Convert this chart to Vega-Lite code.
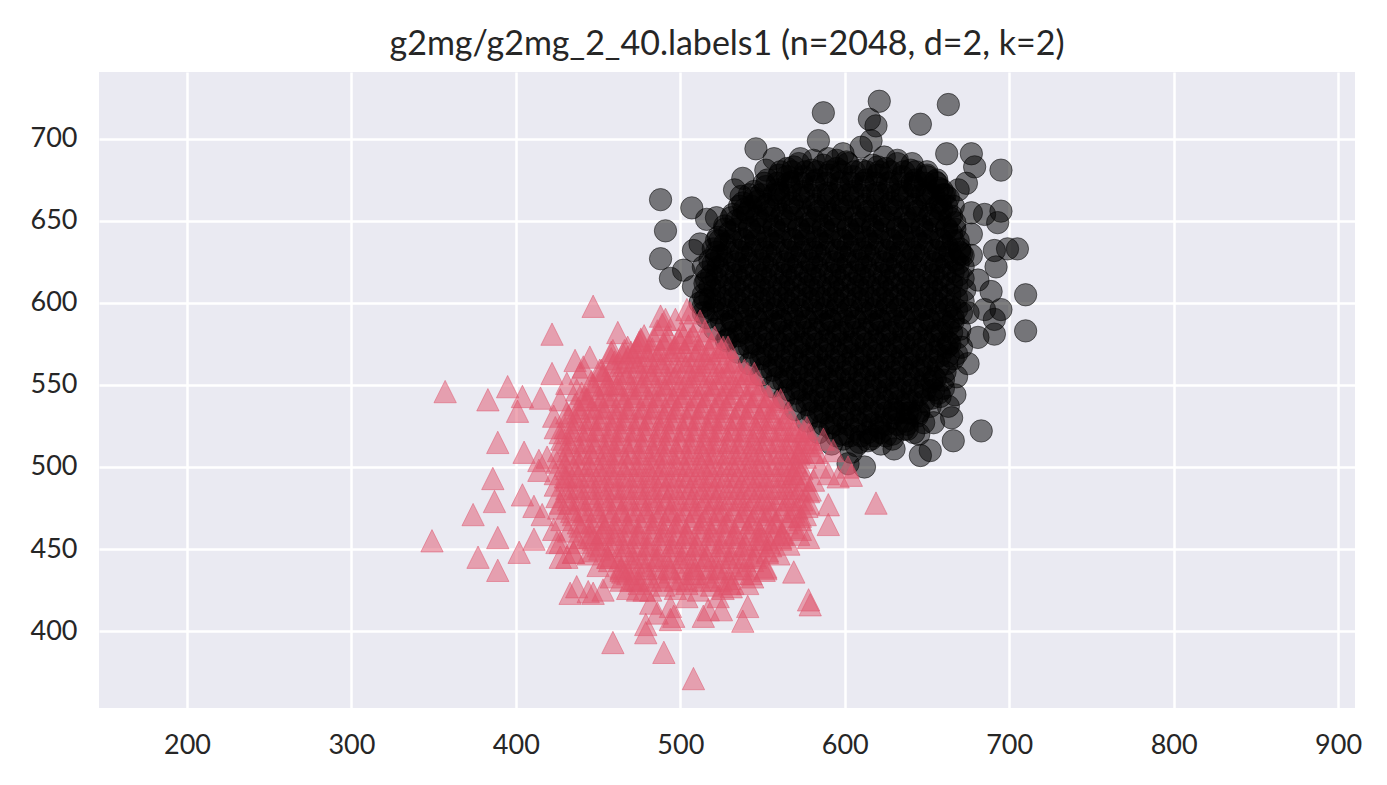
{
  "$schema": "https://vega.github.io/schema/vega-lite/v6.json",
  "width": 1256,
  "height": 636,
  "autosize": {"type": "none"},
  "padding": {"left": 99, "top": 72, "right": 32, "bottom": 77},
  "background": "white",
  "title": {
    "text": "g2mg/g2mg_2_40.labels1 (n=2048, d=2, k=2)",
    "font": "Lato",
    "fontSize": 34,
    "fontWeight": "normal",
    "color": "#262626",
    "anchor": "middle",
    "offset": 10
  },
  "config": {
    "view": {"fill": "#EAEAF2", "stroke": null},
    "axis": {
      "grid": true,
      "gridColor": "#FFFFFF",
      "gridWidth": 2.5,
      "domain": false,
      "ticks": false,
      "labelFont": "Lato",
      "labelFontSize": 27,
      "labelColor": "#262626"
    }
  },
  "datasets": {
    "cluster0": [
      {"x":565,"y":682},{"x":572,"y":685},{"x":580,"y":681},{"x":587,"y":684},{"x":595,"y":682},{"x":602,"y":685},{"x":610,"y":681},{"x":617,"y":684},{"x":625,"y":682},{"x":632,"y":685},{"x":640,"y":681},
      {"x":553,"y":675},{"x":560,"y":678},{"x":568,"y":674},{"x":575,"y":677},{"x":583,"y":675},{"x":590,"y":678},{"x":598,"y":674},{"x":605,"y":677},{"x":613,"y":675},{"x":620,"y":678},{"x":628,"y":674},{"x":635,"y":677},{"x":643,"y":675},{"x":650,"y":678},{"x":655,"y":674},
      {"x":545,"y":668},{"x":552,"y":671},{"x":560,"y":667},{"x":567,"y":670},{"x":575,"y":668},{"x":582,"y":671},{"x":590,"y":667},{"x":597,"y":670},{"x":605,"y":668},{"x":612,"y":671},{"x":620,"y":667},{"x":627,"y":670},{"x":635,"y":668},{"x":642,"y":671},{"x":650,"y":667},{"x":657,"y":670},{"x":661,"y":666},
      {"x":538,"y":661},{"x":545,"y":664},{"x":553,"y":660},{"x":560,"y":663},{"x":568,"y":661},{"x":575,"y":664},{"x":583,"y":660},{"x":590,"y":663},{"x":598,"y":661},{"x":605,"y":664},{"x":613,"y":660},{"x":620,"y":663},{"x":628,"y":661},{"x":635,"y":664},{"x":643,"y":660},{"x":650,"y":663},{"x":658,"y":661},{"x":663,"y":664},
      {"x":532,"y":654},{"x":539,"y":657},{"x":547,"y":653},{"x":554,"y":656},{"x":562,"y":654},{"x":569,"y":657},{"x":577,"y":653},{"x":584,"y":656},{"x":592,"y":654},{"x":599,"y":657},{"x":607,"y":653},{"x":614,"y":656},{"x":622,"y":654},{"x":629,"y":657},{"x":637,"y":653},{"x":644,"y":656},{"x":652,"y":654},{"x":659,"y":657},{"x":665,"y":653},
      {"x":527,"y":647},{"x":534,"y":650},{"x":542,"y":646},{"x":549,"y":649},{"x":557,"y":647},{"x":564,"y":650},{"x":572,"y":646},{"x":579,"y":649},{"x":587,"y":647},{"x":594,"y":650},{"x":602,"y":646},{"x":609,"y":649},{"x":617,"y":647},{"x":624,"y":650},{"x":632,"y":646},{"x":639,"y":649},{"x":647,"y":647},{"x":654,"y":650},{"x":662,"y":646},{"x":667,"y":649},
      {"x":523,"y":640},{"x":530,"y":643},{"x":538,"y":639},{"x":545,"y":642},{"x":553,"y":640},{"x":560,"y":643},{"x":568,"y":639},{"x":575,"y":642},{"x":583,"y":640},{"x":590,"y":643},{"x":598,"y":639},{"x":605,"y":642},{"x":613,"y":640},{"x":620,"y":643},{"x":628,"y":639},{"x":635,"y":642},{"x":643,"y":640},{"x":650,"y":643},{"x":658,"y":639},{"x":665,"y":642},{"x":669,"y":638},
      {"x":520,"y":633},{"x":527,"y":636},{"x":535,"y":632},{"x":542,"y":635},{"x":550,"y":633},{"x":557,"y":636},{"x":565,"y":632},{"x":572,"y":635},{"x":580,"y":633},{"x":587,"y":636},{"x":595,"y":632},{"x":602,"y":635},{"x":610,"y":633},{"x":617,"y":636},{"x":625,"y":632},{"x":632,"y":635},{"x":640,"y":633},{"x":647,"y":636},{"x":655,"y":632},{"x":662,"y":635},{"x":670,"y":633},
      {"x":518,"y":626},{"x":525,"y":629},{"x":533,"y":625},{"x":540,"y":628},{"x":548,"y":626},{"x":555,"y":629},{"x":563,"y":625},{"x":570,"y":628},{"x":578,"y":626},{"x":585,"y":629},{"x":593,"y":625},{"x":600,"y":628},{"x":608,"y":626},{"x":615,"y":629},{"x":623,"y":625},{"x":630,"y":628},{"x":638,"y":626},{"x":645,"y":629},{"x":653,"y":625},{"x":660,"y":628},{"x":667,"y":626},{"x":672,"y":629},
      {"x":516,"y":619},{"x":523,"y":622},{"x":531,"y":618},{"x":538,"y":621},{"x":546,"y":619},{"x":553,"y":622},{"x":561,"y":618},{"x":568,"y":621},{"x":576,"y":619},{"x":583,"y":622},{"x":591,"y":618},{"x":598,"y":621},{"x":606,"y":619},{"x":613,"y":622},{"x":621,"y":618},{"x":628,"y":621},{"x":636,"y":619},{"x":643,"y":622},{"x":651,"y":618},{"x":658,"y":621},{"x":666,"y":619},{"x":672,"y":622},
      {"x":515,"y":612},{"x":522,"y":615},{"x":530,"y":611},{"x":537,"y":614},{"x":545,"y":612},{"x":552,"y":615},{"x":560,"y":611},{"x":567,"y":614},{"x":575,"y":612},{"x":582,"y":615},{"x":590,"y":611},{"x":597,"y":614},{"x":605,"y":612},{"x":612,"y":615},{"x":620,"y":611},{"x":627,"y":614},{"x":635,"y":612},{"x":642,"y":615},{"x":650,"y":611},{"x":657,"y":614},{"x":665,"y":612},{"x":672,"y":615},
      {"x":514,"y":605},{"x":521,"y":608},{"x":529,"y":604},{"x":536,"y":607},{"x":544,"y":605},{"x":551,"y":608},{"x":559,"y":604},{"x":566,"y":607},{"x":574,"y":605},{"x":581,"y":608},{"x":589,"y":604},{"x":596,"y":607},{"x":604,"y":605},{"x":611,"y":608},{"x":619,"y":604},{"x":626,"y":607},{"x":634,"y":605},{"x":641,"y":608},{"x":649,"y":604},{"x":656,"y":607},{"x":664,"y":605},{"x":673,"y":608},
      {"x":514,"y":598},{"x":521,"y":601},{"x":529,"y":597},{"x":536,"y":600},{"x":544,"y":598},{"x":551,"y":601},{"x":559,"y":597},{"x":566,"y":600},{"x":574,"y":598},{"x":581,"y":601},{"x":589,"y":597},{"x":596,"y":600},{"x":604,"y":598},{"x":611,"y":601},{"x":619,"y":597},{"x":626,"y":600},{"x":634,"y":598},{"x":641,"y":601},{"x":649,"y":597},{"x":656,"y":600},{"x":664,"y":598},{"x":672,"y":601},
      {"x":516,"y":591},{"x":523,"y":594},{"x":531,"y":590},{"x":538,"y":593},{"x":546,"y":591},{"x":553,"y":594},{"x":561,"y":590},{"x":568,"y":593},{"x":576,"y":591},{"x":583,"y":594},{"x":591,"y":590},{"x":598,"y":593},{"x":606,"y":591},{"x":613,"y":594},{"x":621,"y":590},{"x":628,"y":593},{"x":636,"y":591},{"x":643,"y":594},{"x":651,"y":590},{"x":658,"y":593},{"x":666,"y":591},{"x":671,"y":594},
      {"x":521,"y":584},{"x":528,"y":587},{"x":536,"y":583},{"x":543,"y":586},{"x":551,"y":584},{"x":558,"y":587},{"x":566,"y":583},{"x":573,"y":586},{"x":581,"y":584},{"x":588,"y":587},{"x":596,"y":583},{"x":603,"y":586},{"x":611,"y":584},{"x":618,"y":587},{"x":626,"y":583},{"x":633,"y":586},{"x":641,"y":584},{"x":648,"y":587},{"x":656,"y":583},{"x":663,"y":586},{"x":670,"y":584},
      {"x":528,"y":577},{"x":535,"y":580},{"x":543,"y":576},{"x":550,"y":579},{"x":558,"y":577},{"x":565,"y":580},{"x":573,"y":576},{"x":580,"y":579},{"x":588,"y":577},{"x":595,"y":580},{"x":603,"y":576},{"x":610,"y":579},{"x":618,"y":577},{"x":625,"y":580},{"x":633,"y":576},{"x":640,"y":579},{"x":648,"y":577},{"x":655,"y":580},{"x":663,"y":576},{"x":669,"y":579},
      {"x":535,"y":570},{"x":542,"y":573},{"x":550,"y":569},{"x":557,"y":572},{"x":565,"y":570},{"x":572,"y":573},{"x":580,"y":569},{"x":587,"y":572},{"x":595,"y":570},{"x":602,"y":573},{"x":610,"y":569},{"x":617,"y":572},{"x":625,"y":570},{"x":632,"y":573},{"x":640,"y":569},{"x":647,"y":572},{"x":655,"y":570},{"x":662,"y":573},{"x":668,"y":569},
      {"x":542,"y":563},{"x":549,"y":566},{"x":557,"y":562},{"x":564,"y":565},{"x":572,"y":563},{"x":579,"y":566},{"x":587,"y":562},{"x":594,"y":565},{"x":602,"y":563},{"x":609,"y":566},{"x":617,"y":562},{"x":624,"y":565},{"x":632,"y":563},{"x":639,"y":566},{"x":647,"y":562},{"x":654,"y":565},{"x":662,"y":563},{"x":666,"y":566},
      {"x":549,"y":556},{"x":556,"y":559},{"x":564,"y":555},{"x":571,"y":558},{"x":579,"y":556},{"x":586,"y":559},{"x":594,"y":555},{"x":601,"y":558},{"x":609,"y":556},{"x":616,"y":559},{"x":624,"y":555},{"x":631,"y":558},{"x":639,"y":556},{"x":646,"y":559},{"x":654,"y":555},{"x":661,"y":558},
      {"x":556,"y":549},{"x":563,"y":552},{"x":571,"y":548},{"x":578,"y":551},{"x":586,"y":549},{"x":593,"y":552},{"x":601,"y":548},{"x":608,"y":551},{"x":616,"y":549},{"x":623,"y":552},{"x":631,"y":548},{"x":638,"y":551},{"x":646,"y":549},{"x":653,"y":552},{"x":660,"y":548},
      {"x":563,"y":542},{"x":570,"y":545},{"x":578,"y":541},{"x":585,"y":544},{"x":593,"y":542},{"x":600,"y":545},{"x":608,"y":541},{"x":615,"y":544},{"x":623,"y":542},{"x":630,"y":545},{"x":638,"y":541},{"x":645,"y":544},{"x":653,"y":542},{"x":657,"y":545},
      {"x":570,"y":535},{"x":577,"y":538},{"x":585,"y":534},{"x":592,"y":537},{"x":600,"y":535},{"x":607,"y":538},{"x":615,"y":534},{"x":622,"y":537},{"x":630,"y":535},{"x":637,"y":538},{"x":645,"y":534},{"x":652,"y":537},
      {"x":577,"y":528},{"x":584,"y":531},{"x":592,"y":527},{"x":599,"y":530},{"x":607,"y":528},{"x":614,"y":531},{"x":622,"y":527},{"x":629,"y":530},{"x":637,"y":528},{"x":644,"y":531},{"x":648,"y":527},
      {"x":584,"y":521},{"x":591,"y":524},{"x":599,"y":520},{"x":606,"y":523},{"x":614,"y":521},{"x":621,"y":524},{"x":629,"y":520},{"x":636,"y":523},{"x":642,"y":521},
      {"x":592,"y":514},{"x":599,"y":517},{"x":607,"y":513},{"x":614,"y":516},{"x":622,"y":514},{"x":629,"y":517},
      {"x":561,"y":680},{"x":568,"y":680},{"x":576,"y":680},{"x":583,"y":680},{"x":591,"y":680},{"x":598,"y":680},{"x":606,"y":680},{"x":613,"y":680},{"x":621,"y":680},{"x":628,"y":680},{"x":636,"y":680},{"x":643,"y":680},{"x":650,"y":680},
      {"x":551,"y":673},{"x":559,"y":673},{"x":566,"y":673},{"x":574,"y":673},{"x":581,"y":673},{"x":589,"y":673},{"x":596,"y":673},{"x":604,"y":673},{"x":611,"y":673},{"x":619,"y":673},{"x":626,"y":673},{"x":634,"y":673},{"x":641,"y":673},{"x":649,"y":673},{"x":656,"y":673},
      {"x":542,"y":666},{"x":549,"y":666},{"x":557,"y":666},{"x":564,"y":666},{"x":572,"y":666},{"x":579,"y":666},{"x":587,"y":666},{"x":594,"y":666},{"x":602,"y":666},{"x":609,"y":666},{"x":617,"y":666},{"x":624,"y":666},{"x":632,"y":666},{"x":639,"y":666},{"x":647,"y":666},{"x":654,"y":666},{"x":660,"y":666},
      {"x":536,"y":659},{"x":543,"y":659},{"x":551,"y":659},{"x":558,"y":659},{"x":566,"y":659},{"x":573,"y":659},{"x":581,"y":659},{"x":588,"y":659},{"x":596,"y":659},{"x":603,"y":659},{"x":611,"y":659},{"x":618,"y":659},{"x":626,"y":659},{"x":633,"y":659},{"x":641,"y":659},{"x":648,"y":659},{"x":656,"y":659},{"x":662,"y":659},
      {"x":531,"y":652},{"x":538,"y":652},{"x":546,"y":652},{"x":553,"y":652},{"x":561,"y":652},{"x":568,"y":652},{"x":576,"y":652},{"x":583,"y":652},{"x":591,"y":652},{"x":598,"y":652},{"x":606,"y":652},{"x":613,"y":652},{"x":621,"y":652},{"x":628,"y":652},{"x":636,"y":652},{"x":643,"y":652},{"x":651,"y":652},{"x":658,"y":652},{"x":664,"y":652},
      {"x":527,"y":645},{"x":534,"y":645},{"x":542,"y":645},{"x":549,"y":645},{"x":557,"y":645},{"x":564,"y":645},{"x":572,"y":645},{"x":579,"y":645},{"x":587,"y":645},{"x":594,"y":645},{"x":602,"y":645},{"x":609,"y":645},{"x":617,"y":645},{"x":624,"y":645},{"x":632,"y":645},{"x":639,"y":645},{"x":647,"y":645},{"x":654,"y":645},{"x":662,"y":645},{"x":667,"y":645},
      {"x":524,"y":638},{"x":531,"y":638},{"x":539,"y":638},{"x":546,"y":638},{"x":554,"y":638},{"x":561,"y":638},{"x":569,"y":638},{"x":576,"y":638},{"x":584,"y":638},{"x":591,"y":638},{"x":599,"y":638},{"x":606,"y":638},{"x":614,"y":638},{"x":621,"y":638},{"x":629,"y":638},{"x":636,"y":638},{"x":644,"y":638},{"x":651,"y":638},{"x":659,"y":638},{"x":666,"y":638},
      {"x":522,"y":631},{"x":529,"y":631},{"x":537,"y":631},{"x":544,"y":631},{"x":552,"y":631},{"x":559,"y":631},{"x":567,"y":631},{"x":574,"y":631},{"x":582,"y":631},{"x":589,"y":631},{"x":597,"y":631},{"x":604,"y":631},{"x":612,"y":631},{"x":619,"y":631},{"x":627,"y":631},{"x":634,"y":631},{"x":642,"y":631},{"x":649,"y":631},{"x":657,"y":631},{"x":664,"y":631},{"x":670,"y":631},
      {"x":520,"y":624},{"x":527,"y":624},{"x":535,"y":624},{"x":542,"y":624},{"x":550,"y":624},{"x":557,"y":624},{"x":565,"y":624},{"x":572,"y":624},{"x":580,"y":624},{"x":587,"y":624},{"x":595,"y":624},{"x":602,"y":624},{"x":610,"y":624},{"x":617,"y":624},{"x":625,"y":624},{"x":632,"y":624},{"x":640,"y":624},{"x":647,"y":624},{"x":655,"y":624},{"x":662,"y":624},{"x":669,"y":624},
      {"x":519,"y":617},{"x":526,"y":617},{"x":534,"y":617},{"x":541,"y":617},{"x":549,"y":617},{"x":556,"y":617},{"x":564,"y":617},{"x":571,"y":617},{"x":579,"y":617},{"x":586,"y":617},{"x":594,"y":617},{"x":601,"y":617},{"x":609,"y":617},{"x":616,"y":617},{"x":624,"y":617},{"x":631,"y":617},{"x":639,"y":617},{"x":646,"y":617},{"x":654,"y":617},{"x":661,"y":617},{"x":669,"y":617},
      {"x":518,"y":610},{"x":525,"y":610},{"x":533,"y":610},{"x":540,"y":610},{"x":548,"y":610},{"x":555,"y":610},{"x":563,"y":610},{"x":570,"y":610},{"x":578,"y":610},{"x":585,"y":610},{"x":593,"y":610},{"x":600,"y":610},{"x":608,"y":610},{"x":615,"y":610},{"x":623,"y":610},{"x":630,"y":610},{"x":638,"y":610},{"x":645,"y":610},{"x":653,"y":610},{"x":660,"y":610},{"x":668,"y":610},
      {"x":518,"y":603},{"x":525,"y":603},{"x":533,"y":603},{"x":540,"y":603},{"x":548,"y":603},{"x":555,"y":603},{"x":563,"y":603},{"x":570,"y":603},{"x":578,"y":603},{"x":585,"y":603},{"x":593,"y":603},{"x":600,"y":603},{"x":608,"y":603},{"x":615,"y":603},{"x":623,"y":603},{"x":630,"y":603},{"x":638,"y":603},{"x":645,"y":603},{"x":653,"y":603},{"x":660,"y":603},{"x":668,"y":603},
      {"x":520,"y":596},{"x":527,"y":596},{"x":535,"y":596},{"x":542,"y":596},{"x":550,"y":596},{"x":557,"y":596},{"x":565,"y":596},{"x":572,"y":596},{"x":580,"y":596},{"x":587,"y":596},{"x":595,"y":596},{"x":602,"y":596},{"x":610,"y":596},{"x":617,"y":596},{"x":625,"y":596},{"x":632,"y":596},{"x":640,"y":596},{"x":647,"y":596},{"x":655,"y":596},{"x":662,"y":596},{"x":668,"y":596},
      {"x":525,"y":589},{"x":532,"y":589},{"x":540,"y":589},{"x":547,"y":589},{"x":555,"y":589},{"x":562,"y":589},{"x":570,"y":589},{"x":577,"y":589},{"x":585,"y":589},{"x":592,"y":589},{"x":600,"y":589},{"x":607,"y":589},{"x":615,"y":589},{"x":622,"y":589},{"x":630,"y":589},{"x":637,"y":589},{"x":645,"y":589},{"x":652,"y":589},{"x":660,"y":589},{"x":666,"y":589},
      {"x":531,"y":582},{"x":539,"y":582},{"x":546,"y":582},{"x":554,"y":582},{"x":561,"y":582},{"x":569,"y":582},{"x":576,"y":582},{"x":584,"y":582},{"x":591,"y":582},{"x":599,"y":582},{"x":606,"y":582},{"x":614,"y":582},{"x":621,"y":582},{"x":629,"y":582},{"x":636,"y":582},{"x":644,"y":582},{"x":651,"y":582},{"x":659,"y":582},{"x":665,"y":582},
      {"x":538,"y":575},{"x":546,"y":575},{"x":553,"y":575},{"x":561,"y":575},{"x":568,"y":575},{"x":576,"y":575},{"x":583,"y":575},{"x":591,"y":575},{"x":598,"y":575},{"x":606,"y":575},{"x":613,"y":575},{"x":621,"y":575},{"x":628,"y":575},{"x":636,"y":575},{"x":643,"y":575},{"x":651,"y":575},{"x":658,"y":575},{"x":664,"y":575},
      {"x":545,"y":568},{"x":553,"y":568},{"x":560,"y":568},{"x":568,"y":568},{"x":575,"y":568},{"x":583,"y":568},{"x":590,"y":568},{"x":598,"y":568},{"x":605,"y":568},{"x":613,"y":568},{"x":620,"y":568},{"x":628,"y":568},{"x":635,"y":568},{"x":643,"y":568},{"x":650,"y":568},{"x":658,"y":568},{"x":663,"y":568},
      {"x":552,"y":561},{"x":560,"y":561},{"x":567,"y":561},{"x":575,"y":561},{"x":582,"y":561},{"x":590,"y":561},{"x":597,"y":561},{"x":605,"y":561},{"x":612,"y":561},{"x":620,"y":561},{"x":627,"y":561},{"x":635,"y":561},{"x":642,"y":561},{"x":650,"y":561},{"x":657,"y":561},
      {"x":559,"y":554},{"x":567,"y":554},{"x":574,"y":554},{"x":582,"y":554},{"x":589,"y":554},{"x":597,"y":554},{"x":604,"y":554},{"x":612,"y":554},{"x":619,"y":554},{"x":627,"y":554},{"x":634,"y":554},{"x":642,"y":554},{"x":649,"y":554},{"x":655,"y":554},
      {"x":566,"y":547},{"x":574,"y":547},{"x":581,"y":547},{"x":589,"y":547},{"x":596,"y":547},{"x":604,"y":547},{"x":611,"y":547},{"x":619,"y":547},{"x":626,"y":547},{"x":634,"y":547},{"x":641,"y":547},{"x":649,"y":547},{"x":654,"y":547},
      {"x":573,"y":540},{"x":581,"y":540},{"x":588,"y":540},{"x":596,"y":540},{"x":603,"y":540},{"x":611,"y":540},{"x":618,"y":540},{"x":626,"y":540},{"x":633,"y":540},{"x":641,"y":540},{"x":648,"y":540},
      {"x":580,"y":533},{"x":588,"y":533},{"x":595,"y":533},{"x":603,"y":533},{"x":610,"y":533},{"x":618,"y":533},{"x":625,"y":533},{"x":633,"y":533},{"x":640,"y":533},{"x":645,"y":533},
      {"x":587,"y":526},{"x":595,"y":526},{"x":602,"y":526},{"x":610,"y":526},{"x":617,"y":526},{"x":625,"y":526},{"x":632,"y":526},{"x":638,"y":526},
      {"x":595,"y":519},{"x":603,"y":519},{"x":610,"y":519},{"x":618,"y":519},{"x":625,"y":519},
      {"x":587,"y":716},{"x":621,"y":723},{"x":663,"y":721},{"x":615,"y":712},{"x":619,"y":708},{"x":646,"y":709},{"x":584,"y":699},{"x":616,"y":699},{"x":546,"y":694},{"x":557,"y":688},{"x":552,"y":681},{"x":662,"y":691},{"x":677,"y":691},{"x":679,"y":683},{"x":695,"y":681},{"x":674,"y":673},{"x":538,"y":676},{"x":533,"y":669},{"x":488,"y":663},{"x":507,"y":658},{"x":516,"y":651},{"x":491,"y":644},{"x":488,"y":627},{"x":494,"y":615},{"x":502,"y":620},
      {"x":685,"y":654},{"x":695,"y":656},{"x":693,"y":649},{"x":705,"y":633},{"x":699,"y":633},{"x":691,"y":632},{"x":677,"y":629},{"x":692,"y":622},{"x":710,"y":605},{"x":695,"y":596},{"x":691,"y":590},{"x":710,"y":583},{"x":691,"y":581},{"x":689,"y":607},{"x":681,"y":614},{"x":675,"y":563},{"x":668,"y":555},{"x":667,"y":544},{"x":665,"y":530},{"x":683,"y":522},{"x":666,"y":516},{"x":646,"y":507},{"x":652,"y":510},{"x":630,"y":511},{"x":645,"y":520},{"x":612,"y":500},{"x":602,"y":502},{"x":609,"y":515},{"x":622,"y":521},{"x":663,"y":537},{"x":658,"y":543},{"x":681,"y":579},{"x":685,"y":596},{"x":677,"y":642},{"x":666,"y":659},{"x":659,"y":669},{"x":643,"y":671},{"x":632,"y":687},{"x":624,"y":689},{"x":601,"y":686},{"x":595,"y":687},{"x":590,"y":688},{"x":581,"y":687},{"x":569,"y":683},{"x":565,"y":677},{"x":559,"y":669},{"x":547,"y":662},{"x":537,"y":665},{"x":522,"y":652},{"x":512,"y":636},{"x":516,"y":614},{"x":515,"y":602},{"x":514,"y":594},{"x":529,"y":578},
      {"x":638,"y":533},{"x":630,"y":533},{"x":660,"y":553},{"x":671,"y":573},{"x":675,"y":594},{"x":671,"y":630},{"x":677,"y":655},{"x":669,"y":669},{"x":656,"y":675},{"x":650,"y":677},{"x":641,"y":685},{"x":620,"y":683},{"x":610,"y":695},{"x":599,"y":691},{"x":573,"y":688},{"x":541,"y":655},{"x":522,"y":638},{"x":508,"y":632},{"x":514,"y":622},{"x":522,"y":628},{"x":508,"y":610},{"x":512,"y":600},{"x":604,"y":509},{"x":616,"y":517},{"x":638,"y":523},{"x":654,"y":527}
    ],
    "cluster1": [
      {"x":489,"y":587},{"x":497,"y":590},{"x":505,"y":586},{"x":512,"y":589},
      {"x":478,"y":580},{"x":486,"y":583},{"x":493,"y":579},{"x":501,"y":582},{"x":508,"y":580},{"x":515,"y":583},{"x":521,"y":579},
      {"x":468,"y":573},{"x":475,"y":576},{"x":483,"y":572},{"x":490,"y":575},{"x":497,"y":573},{"x":505,"y":576},{"x":512,"y":572},{"x":519,"y":575},{"x":526,"y":573},
      {"x":458,"y":566},{"x":465,"y":569},{"x":473,"y":565},{"x":480,"y":568},{"x":487,"y":566},{"x":494,"y":569},{"x":502,"y":565},{"x":509,"y":568},{"x":516,"y":566},{"x":523,"y":569},{"x":531,"y":565},
      {"x":452,"y":559},{"x":459,"y":562},{"x":466,"y":558},{"x":474,"y":561},{"x":481,"y":559},{"x":488,"y":562},{"x":495,"y":558},{"x":503,"y":561},{"x":510,"y":559},{"x":517,"y":562},{"x":524,"y":558},{"x":531,"y":561},{"x":539,"y":559},
      {"x":446,"y":552},{"x":453,"y":555},{"x":460,"y":551},{"x":467,"y":554},{"x":475,"y":552},{"x":482,"y":555},{"x":489,"y":551},{"x":496,"y":554},{"x":504,"y":552},{"x":511,"y":555},{"x":518,"y":551},{"x":525,"y":554},{"x":532,"y":552},{"x":540,"y":555},{"x":546,"y":551},
      {"x":440,"y":545},{"x":447,"y":548},{"x":454,"y":544},{"x":462,"y":547},{"x":469,"y":545},{"x":476,"y":548},{"x":483,"y":544},{"x":491,"y":547},{"x":498,"y":545},{"x":505,"y":548},{"x":512,"y":544},{"x":520,"y":547},{"x":527,"y":545},{"x":534,"y":548},{"x":541,"y":544},{"x":548,"y":547},{"x":553,"y":543},
      {"x":436,"y":538},{"x":443,"y":541},{"x":450,"y":537},{"x":457,"y":540},{"x":465,"y":538},{"x":472,"y":541},{"x":479,"y":537},{"x":486,"y":540},{"x":494,"y":538},{"x":501,"y":541},{"x":508,"y":537},{"x":515,"y":540},{"x":523,"y":538},{"x":530,"y":541},{"x":537,"y":537},{"x":544,"y":540},{"x":552,"y":538},{"x":559,"y":540},
      {"x":432,"y":531},{"x":439,"y":534},{"x":446,"y":530},{"x":454,"y":533},{"x":461,"y":531},{"x":468,"y":534},{"x":475,"y":530},{"x":483,"y":533},{"x":490,"y":531},{"x":497,"y":534},{"x":504,"y":530},{"x":512,"y":533},{"x":519,"y":531},{"x":526,"y":534},{"x":533,"y":530},{"x":541,"y":533},{"x":548,"y":531},{"x":555,"y":534},{"x":562,"y":530},{"x":566,"y":533},
      {"x":430,"y":524},{"x":437,"y":527},{"x":444,"y":523},{"x":451,"y":526},{"x":459,"y":524},{"x":466,"y":527},{"x":473,"y":523},{"x":480,"y":526},{"x":488,"y":524},{"x":495,"y":527},{"x":502,"y":523},{"x":509,"y":526},{"x":517,"y":524},{"x":524,"y":527},{"x":531,"y":523},{"x":538,"y":526},{"x":546,"y":524},{"x":553,"y":527},{"x":560,"y":523},{"x":567,"y":526},{"x":572,"y":522},
      {"x":428,"y":517},{"x":435,"y":520},{"x":442,"y":516},{"x":450,"y":519},{"x":457,"y":517},{"x":464,"y":520},{"x":471,"y":516},{"x":479,"y":519},{"x":486,"y":517},{"x":493,"y":520},{"x":500,"y":516},{"x":508,"y":519},{"x":515,"y":517},{"x":522,"y":520},{"x":529,"y":516},{"x":537,"y":519},{"x":544,"y":517},{"x":551,"y":520},{"x":558,"y":516},{"x":566,"y":519},{"x":573,"y":517},{"x":578,"y":520},
      {"x":426,"y":510},{"x":433,"y":513},{"x":440,"y":509},{"x":448,"y":512},{"x":455,"y":510},{"x":462,"y":513},{"x":469,"y":509},{"x":477,"y":512},{"x":484,"y":510},{"x":491,"y":513},{"x":498,"y":509},{"x":506,"y":512},{"x":513,"y":510},{"x":520,"y":513},{"x":527,"y":509},{"x":535,"y":512},{"x":542,"y":510},{"x":549,"y":513},{"x":556,"y":509},{"x":564,"y":512},{"x":571,"y":510},{"x":578,"y":513},{"x":583,"y":509},
      {"x":425,"y":503},{"x":432,"y":506},{"x":439,"y":502},{"x":447,"y":505},{"x":454,"y":503},{"x":461,"y":506},{"x":468,"y":502},{"x":476,"y":505},{"x":483,"y":503},{"x":490,"y":506},{"x":497,"y":502},{"x":505,"y":505},{"x":512,"y":503},{"x":519,"y":506},{"x":526,"y":502},{"x":534,"y":505},{"x":541,"y":503},{"x":548,"y":506},{"x":555,"y":502},{"x":563,"y":505},{"x":570,"y":503},{"x":576,"y":506},
      {"x":424,"y":496},{"x":431,"y":499},{"x":438,"y":495},{"x":446,"y":498},{"x":453,"y":496},{"x":460,"y":499},{"x":467,"y":495},{"x":475,"y":498},{"x":482,"y":496},{"x":489,"y":499},{"x":496,"y":495},{"x":504,"y":498},{"x":511,"y":496},{"x":518,"y":499},{"x":525,"y":495},{"x":533,"y":498},{"x":540,"y":496},{"x":547,"y":499},{"x":554,"y":495},{"x":562,"y":498},{"x":569,"y":496},{"x":574,"y":499},
      {"x":424,"y":489},{"x":431,"y":492},{"x":438,"y":488},{"x":446,"y":491},{"x":453,"y":489},{"x":460,"y":492},{"x":467,"y":488},{"x":475,"y":491},{"x":482,"y":489},{"x":489,"y":492},{"x":496,"y":488},{"x":504,"y":491},{"x":511,"y":489},{"x":518,"y":492},{"x":525,"y":488},{"x":533,"y":491},{"x":540,"y":489},{"x":547,"y":492},{"x":554,"y":488},{"x":562,"y":491},{"x":569,"y":489},{"x":576,"y":492},
      {"x":425,"y":482},{"x":432,"y":485},{"x":439,"y":481},{"x":447,"y":484},{"x":454,"y":482},{"x":461,"y":485},{"x":468,"y":481},{"x":476,"y":484},{"x":483,"y":482},{"x":490,"y":485},{"x":497,"y":481},{"x":505,"y":484},{"x":512,"y":482},{"x":519,"y":485},{"x":526,"y":481},{"x":534,"y":484},{"x":541,"y":482},{"x":548,"y":485},{"x":555,"y":481},{"x":563,"y":484},{"x":570,"y":482},{"x":578,"y":485},
      {"x":426,"y":475},{"x":433,"y":478},{"x":440,"y":474},{"x":448,"y":477},{"x":455,"y":475},{"x":462,"y":478},{"x":469,"y":474},{"x":477,"y":477},{"x":484,"y":475},{"x":491,"y":478},{"x":498,"y":474},{"x":506,"y":477},{"x":513,"y":475},{"x":520,"y":478},{"x":527,"y":474},{"x":535,"y":477},{"x":542,"y":475},{"x":549,"y":478},{"x":556,"y":474},{"x":564,"y":477},{"x":571,"y":475},{"x":578,"y":478},
      {"x":428,"y":468},{"x":435,"y":471},{"x":442,"y":467},{"x":450,"y":470},{"x":457,"y":468},{"x":464,"y":471},{"x":471,"y":467},{"x":479,"y":470},{"x":486,"y":468},{"x":493,"y":471},{"x":500,"y":467},{"x":508,"y":470},{"x":515,"y":468},{"x":522,"y":471},{"x":529,"y":467},{"x":537,"y":470},{"x":544,"y":468},{"x":551,"y":471},{"x":558,"y":467},{"x":566,"y":470},{"x":573,"y":468},{"x":576,"y":471},
      {"x":432,"y":461},{"x":439,"y":464},{"x":446,"y":460},{"x":454,"y":463},{"x":461,"y":461},{"x":468,"y":464},{"x":475,"y":460},{"x":483,"y":463},{"x":490,"y":461},{"x":497,"y":464},{"x":504,"y":460},{"x":512,"y":463},{"x":519,"y":461},{"x":526,"y":464},{"x":533,"y":460},{"x":541,"y":463},{"x":548,"y":461},{"x":555,"y":464},{"x":562,"y":460},{"x":569,"y":463},{"x":572,"y":459},
      {"x":438,"y":454},{"x":445,"y":457},{"x":452,"y":453},{"x":460,"y":456},{"x":467,"y":454},{"x":474,"y":457},{"x":481,"y":453},{"x":489,"y":456},{"x":496,"y":454},{"x":503,"y":457},{"x":510,"y":453},{"x":518,"y":456},{"x":525,"y":454},{"x":532,"y":457},{"x":539,"y":453},{"x":547,"y":456},{"x":554,"y":454},{"x":561,"y":457},{"x":566,"y":453},
      {"x":444,"y":447},{"x":451,"y":450},{"x":458,"y":446},{"x":466,"y":449},{"x":473,"y":447},{"x":480,"y":450},{"x":487,"y":446},{"x":495,"y":449},{"x":502,"y":447},{"x":509,"y":450},{"x":516,"y":446},{"x":524,"y":449},{"x":531,"y":447},{"x":538,"y":450},{"x":545,"y":446},{"x":553,"y":449},{"x":560,"y":447},
      {"x":450,"y":440},{"x":457,"y":443},{"x":464,"y":439},{"x":472,"y":442},{"x":479,"y":440},{"x":486,"y":443},{"x":493,"y":439},{"x":501,"y":442},{"x":508,"y":440},{"x":515,"y":443},{"x":522,"y":439},{"x":530,"y":442},{"x":537,"y":440},{"x":544,"y":443},{"x":552,"y":439},
      {"x":458,"y":433},{"x":465,"y":436},{"x":472,"y":432},{"x":480,"y":435},{"x":487,"y":433},{"x":494,"y":436},{"x":501,"y":432},{"x":509,"y":435},{"x":516,"y":433},{"x":523,"y":436},{"x":530,"y":432},{"x":538,"y":435},{"x":544,"y":433},
      {"x":468,"y":426},{"x":475,"y":429},{"x":482,"y":425},{"x":490,"y":428},{"x":497,"y":426},{"x":504,"y":429},{"x":511,"y":425},{"x":519,"y":428},{"x":526,"y":426},{"x":530,"y":429},
      {"x":476,"y":578},{"x":484,"y":578},{"x":491,"y":578},{"x":499,"y":578},{"x":506,"y":578},{"x":514,"y":578},
      {"x":466,"y":571},{"x":473,"y":571},{"x":481,"y":571},{"x":488,"y":571},{"x":496,"y":571},{"x":503,"y":571},{"x":511,"y":571},{"x":518,"y":571},{"x":525,"y":571},
      {"x":460,"y":564},{"x":467,"y":564},{"x":475,"y":564},{"x":482,"y":564},{"x":490,"y":564},{"x":497,"y":564},{"x":505,"y":564},{"x":512,"y":564},{"x":520,"y":564},{"x":527,"y":564},{"x":533,"y":564},
      {"x":453,"y":557},{"x":461,"y":557},{"x":468,"y":557},{"x":476,"y":557},{"x":483,"y":557},{"x":491,"y":557},{"x":498,"y":557},{"x":506,"y":557},{"x":513,"y":557},{"x":521,"y":557},{"x":528,"y":557},{"x":536,"y":557},{"x":541,"y":557},
      {"x":447,"y":550},{"x":455,"y":550},{"x":462,"y":550},{"x":470,"y":550},{"x":477,"y":550},{"x":485,"y":550},{"x":492,"y":550},{"x":500,"y":550},{"x":507,"y":550},{"x":515,"y":550},{"x":522,"y":550},{"x":530,"y":550},{"x":537,"y":550},{"x":545,"y":550},
      {"x":442,"y":543},{"x":450,"y":543},{"x":457,"y":543},{"x":465,"y":543},{"x":472,"y":543},{"x":480,"y":543},{"x":487,"y":543},{"x":495,"y":543},{"x":502,"y":543},{"x":510,"y":543},{"x":517,"y":543},{"x":525,"y":543},{"x":532,"y":543},{"x":540,"y":543},{"x":547,"y":543},{"x":554,"y":543},
      {"x":438,"y":536},{"x":446,"y":536},{"x":453,"y":536},{"x":461,"y":536},{"x":468,"y":536},{"x":476,"y":536},{"x":483,"y":536},{"x":491,"y":536},{"x":498,"y":536},{"x":506,"y":536},{"x":513,"y":536},{"x":521,"y":536},{"x":528,"y":536},{"x":536,"y":536},{"x":543,"y":536},{"x":551,"y":536},{"x":558,"y":536},
      {"x":436,"y":529},{"x":444,"y":529},{"x":451,"y":529},{"x":459,"y":529},{"x":466,"y":529},{"x":474,"y":529},{"x":481,"y":529},{"x":489,"y":529},{"x":496,"y":529},{"x":504,"y":529},{"x":511,"y":529},{"x":519,"y":529},{"x":526,"y":529},{"x":534,"y":529},{"x":541,"y":529},{"x":549,"y":529},{"x":556,"y":529},{"x":564,"y":529},
      {"x":434,"y":522},{"x":442,"y":522},{"x":449,"y":522},{"x":457,"y":522},{"x":464,"y":522},{"x":472,"y":522},{"x":479,"y":522},{"x":487,"y":522},{"x":494,"y":522},{"x":502,"y":522},{"x":509,"y":522},{"x":517,"y":522},{"x":524,"y":522},{"x":532,"y":522},{"x":539,"y":522},{"x":547,"y":522},{"x":554,"y":522},{"x":562,"y":522},{"x":569,"y":522},{"x":575,"y":522},
      {"x":432,"y":515},{"x":440,"y":515},{"x":447,"y":515},{"x":455,"y":515},{"x":462,"y":515},{"x":470,"y":515},{"x":477,"y":515},{"x":485,"y":515},{"x":492,"y":515},{"x":500,"y":515},{"x":507,"y":515},{"x":515,"y":515},{"x":522,"y":515},{"x":530,"y":515},{"x":537,"y":515},{"x":545,"y":515},{"x":552,"y":515},{"x":560,"y":515},{"x":567,"y":515},{"x":575,"y":515},{"x":580,"y":515},
      {"x":431,"y":508},{"x":439,"y":508},{"x":446,"y":508},{"x":454,"y":508},{"x":461,"y":508},{"x":469,"y":508},{"x":476,"y":508},{"x":484,"y":508},{"x":491,"y":508},{"x":499,"y":508},{"x":506,"y":508},{"x":514,"y":508},{"x":521,"y":508},{"x":529,"y":508},{"x":536,"y":508},{"x":544,"y":508},{"x":551,"y":508},{"x":559,"y":508},{"x":566,"y":508},{"x":572,"y":508},
      {"x":430,"y":501},{"x":438,"y":501},{"x":445,"y":501},{"x":453,"y":501},{"x":460,"y":501},{"x":468,"y":501},{"x":475,"y":501},{"x":483,"y":501},{"x":490,"y":501},{"x":498,"y":501},{"x":505,"y":501},{"x":513,"y":501},{"x":520,"y":501},{"x":528,"y":501},{"x":535,"y":501},{"x":543,"y":501},{"x":550,"y":501},{"x":558,"y":501},{"x":565,"y":501},{"x":571,"y":501},
      {"x":430,"y":494},{"x":438,"y":494},{"x":445,"y":494},{"x":453,"y":494},{"x":460,"y":494},{"x":468,"y":494},{"x":475,"y":494},{"x":483,"y":494},{"x":490,"y":494},{"x":498,"y":494},{"x":505,"y":494},{"x":513,"y":494},{"x":520,"y":494},{"x":528,"y":494},{"x":535,"y":494},{"x":543,"y":494},{"x":550,"y":494},{"x":558,"y":494},{"x":565,"y":494},{"x":572,"y":494},
      {"x":431,"y":487},{"x":439,"y":487},{"x":446,"y":487},{"x":454,"y":487},{"x":461,"y":487},{"x":469,"y":487},{"x":476,"y":487},{"x":484,"y":487},{"x":491,"y":487},{"x":499,"y":487},{"x":506,"y":487},{"x":514,"y":487},{"x":521,"y":487},{"x":529,"y":487},{"x":536,"y":487},{"x":544,"y":487},{"x":551,"y":487},{"x":559,"y":487},{"x":566,"y":487},{"x":573,"y":487},
      {"x":432,"y":480},{"x":440,"y":480},{"x":447,"y":480},{"x":455,"y":480},{"x":462,"y":480},{"x":470,"y":480},{"x":477,"y":480},{"x":485,"y":480},{"x":492,"y":480},{"x":500,"y":480},{"x":507,"y":480},{"x":515,"y":480},{"x":522,"y":480},{"x":530,"y":480},{"x":537,"y":480},{"x":545,"y":480},{"x":552,"y":480},{"x":560,"y":480},{"x":567,"y":480},{"x":574,"y":480},
      {"x":434,"y":473},{"x":442,"y":473},{"x":449,"y":473},{"x":457,"y":473},{"x":464,"y":473},{"x":472,"y":473},{"x":479,"y":473},{"x":487,"y":473},{"x":494,"y":473},{"x":502,"y":473},{"x":509,"y":473},{"x":517,"y":473},{"x":524,"y":473},{"x":532,"y":473},{"x":539,"y":473},{"x":547,"y":473},{"x":554,"y":473},{"x":562,"y":473},{"x":569,"y":473},
      {"x":438,"y":466},{"x":446,"y":466},{"x":453,"y":466},{"x":461,"y":466},{"x":468,"y":466},{"x":476,"y":466},{"x":483,"y":466},{"x":491,"y":466},{"x":498,"y":466},{"x":506,"y":466},{"x":513,"y":466},{"x":521,"y":466},{"x":528,"y":466},{"x":536,"y":466},{"x":543,"y":466},{"x":551,"y":466},{"x":558,"y":466},{"x":565,"y":466},
      {"x":444,"y":459},{"x":452,"y":459},{"x":459,"y":459},{"x":467,"y":459},{"x":474,"y":459},{"x":482,"y":459},{"x":489,"y":459},{"x":497,"y":459},{"x":504,"y":459},{"x":512,"y":459},{"x":519,"y":459},{"x":527,"y":459},{"x":534,"y":459},{"x":542,"y":459},{"x":549,"y":459},{"x":557,"y":459},{"x":562,"y":459},
      {"x":450,"y":452},{"x":458,"y":452},{"x":465,"y":452},{"x":473,"y":452},{"x":480,"y":452},{"x":488,"y":452},{"x":495,"y":452},{"x":503,"y":452},{"x":510,"y":452},{"x":518,"y":452},{"x":525,"y":452},{"x":533,"y":452},{"x":540,"y":452},{"x":548,"y":452},{"x":555,"y":452},
      {"x":456,"y":445},{"x":464,"y":445},{"x":471,"y":445},{"x":479,"y":445},{"x":486,"y":445},{"x":494,"y":445},{"x":501,"y":445},{"x":509,"y":445},{"x":516,"y":445},{"x":524,"y":445},{"x":531,"y":445},{"x":539,"y":445},{"x":546,"y":445},
      {"x":464,"y":438},{"x":472,"y":438},{"x":479,"y":438},{"x":487,"y":438},{"x":494,"y":438},{"x":502,"y":438},{"x":509,"y":438},{"x":517,"y":438},{"x":524,"y":438},{"x":532,"y":438},{"x":539,"y":438},
      {"x":474,"y":431},{"x":482,"y":431},{"x":489,"y":431},{"x":497,"y":431},{"x":504,"y":431},{"x":512,"y":431},{"x":519,"y":431},{"x":525,"y":431},
      {"x":447,"y":598},{"x":422,"y":581},{"x":462,"y":582},{"x":357,"y":546},{"x":383,"y":541},{"x":395,"y":549},{"x":404,"y":543},{"x":401,"y":534},{"x":415,"y":542},{"x":422,"y":557},{"x":436,"y":565},{"x":445,"y":567},{"x":389,"y":515},{"x":405,"y":509},{"x":414,"y":504},{"x":414,"y":498},{"x":386,"y":493},{"x":387,"y":479},{"x":374,"y":471},{"x":404,"y":483},{"x":411,"y":476},{"x":416,"y":471},{"x":349,"y":455},{"x":389,"y":457},{"x":377,"y":445},{"x":389,"y":437},{"x":402,"y":448},{"x":411,"y":456},{"x":425,"y":454},{"x":431,"y":445},{"x":435,"y":448},{"x":437,"y":427},{"x":444,"y":424},{"x":453,"y":425},{"x":447,"y":423},
      {"x":459,"y":393},{"x":479,"y":399},{"x":479,"y":404},{"x":490,"y":387},{"x":508,"y":371},{"x":538,"y":406},{"x":541,"y":415},{"x":579,"y":416},{"x":578,"y":419},{"x":569,"y":436},{"x":619,"y":478},{"x":590,"y":477},{"x":590,"y":465},{"x":578,"y":457},{"x":561,"y":456},{"x":552,"y":438},{"x":486,"y":411},{"x":496,"y":409},{"x":514,"y":409},{"x":525,"y":413},{"x":532,"y":429},{"x":604,"y":495},{"x":596,"y":494},
      {"x":437,"y":547},{"x":444,"y":541},{"x":423,"y":531},{"x":427,"y":521},{"x":419,"y":506},{"x":431,"y":494},{"x":427,"y":478},{"x":423,"y":462},{"x":427,"y":454},{"x":437,"y":457},{"x":447,"y":449},{"x":456,"y":445},{"x":464,"y":437},{"x":470,"y":431},{"x":474,"y":425},{"x":431,"y":551},{"x":456,"y":551},{"x":458,"y":570},{"x":468,"y":567},{"x":474,"y":573},{"x":451,"y":559},{"x":439,"y":557},{"x":424,"y":524},{"x":427,"y":541},{"x":431,"y":533},{"x":441,"y":561},
      {"x":459,"y":571},{"x":488,"y":592},{"x":491,"y":590},{"x":506,"y":594},{"x":500,"y":576},{"x":476,"y":577},{"x":470,"y":570},
      {"x":433,"y":423},{"x":427,"y":445},{"x":435,"y":448},{"x":447,"y":456},{"x":453,"y":460},{"x":464,"y":431},{"x":468,"y":435},{"x":478,"y":425},{"x":482,"y":417},{"x":494,"y":415},{"x":494,"y":407},{"x":504,"y":421},{"x":508,"y":435},{"x":517,"y":413},{"x":523,"y":421},{"x":531,"y":427},{"x":541,"y":429},{"x":543,"y":435},{"x":551,"y":437},{"x":553,"y":448},{"x":549,"y":456},{"x":573,"y":462},{"x":573,"y":470},{"x":577,"y":476},{"x":579,"y":486},{"x":581,"y":492},{"x":585,"y":500},{"x":590,"y":496},{"x":581,"y":509},{"x":593,"y":510},{"x":573,"y":509},{"x":569,"y":496},
      {"x":504,"y":596},{"x":529,"y":573},{"x":545,"y":557},{"x":561,"y":541},{"x":577,"y":524},{"x":587,"y":517},{"x":602,"y":500}
    ]
  },
  "encoding": {
    "x": {
      "field": "x",
      "type": "quantitative",
      "title": null,
      "scale": {"domain": [146.5, 910.3], "nice": false, "zero": false},
      "axis": {"values": [200, 300, 400, 500, 600, 700, 800, 900], "labelPadding": 24}
    },
    "y": {
      "field": "y",
      "type": "quantitative",
      "title": null,
      "scale": {"domain": [353.05, 740.85], "nice": false, "zero": false},
      "axis": {"values": [400, 450, 500, 550, 600, 650, 700], "labelPadding": 22}
    }
  },
  "layer": [
    {
      "data": {"name": "cluster0"},
      "mark": {
        "type": "point",
        "shape": "circle",
        "filled": true,
        "size": 500,
        "opacity": 1,
        "fill": "#000000",
        "fillOpacity": 0.5,
        "stroke": "#000000",
        "strokeOpacity": 0.5,
        "strokeWidth": 1
      }
    },
    {
      "data": {"name": "cluster1"},
      "mark": {
        "type": "point",
        "shape": "M0,-1L1,1L-1,1Z",
        "filled": true,
        "size": 500,
        "opacity": 1,
        "fill": "#DF536B",
        "fillOpacity": 0.5,
        "stroke": "#DF536B",
        "strokeOpacity": 0.5,
        "strokeWidth": 1
      }
    }
  ]
}
